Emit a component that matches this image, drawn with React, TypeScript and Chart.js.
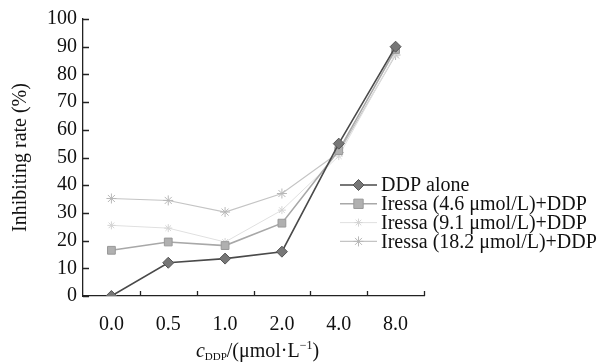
import React, { useEffect, useRef } from "react";
import { Chart, registerables } from "chart.js";

Chart.register(...registerables);

const categories = ["0.0", "0.5", "1.0", "2.0", "4.0", "8.0"];
const ddpAlone = [0, 12, 13.5, 16, 55, 90];
const iressa46 = [16.5, 19.5, 18.2, 26.3, 52.5, 89];
const iressa91 = [25.5, 24.5, 19.5, 31, 50.5, 87.5];
const iressa182 = [35.2, 34.5, 30.3, 37, 51.8, 87];
const yTicks = [0, 10, 20, 30, 40, 50, 60, 70, 80, 90, 100];
const seriesNames = [
  "DDP alone",
  "Iressa (4.6 \u03bcmol/L)+DDP",
  "Iressa (9.1 \u03bcmol/L)+DDP",
  "Iressa (18.2 \u03bcmol/L)+DDP",
];
const yTitle = "Inhibiting rate (%)";

const FONT = "'Liberation Serif', 'Times New Roman', serif";

function marker(ctx: CanvasRenderingContext2D, style: string, x: number, y: number, r: number, fill: string, stroke: string, lw: number) {
  ctx.save();
  ctx.fillStyle = fill;
  ctx.strokeStyle = stroke;
  ctx.lineWidth = lw;
  ctx.beginPath();
  if (style === "rectRot") {
    ctx.moveTo(x, y - r);
    ctx.lineTo(x + r, y);
    ctx.lineTo(x, y + r);
    ctx.lineTo(x - r, y);
    ctx.closePath();
    ctx.fill();
    ctx.stroke();
  } else if (style === "rect") {
    const s = r * 0.85;
    ctx.rect(x - s, y - s, 2 * s, 2 * s);
    ctx.fill();
    ctx.stroke();
  } else {
    ctx.moveTo(x - r, y);
    ctx.lineTo(x + r, y);
    ctx.moveTo(x, y - r);
    ctx.lineTo(x, y + r);
    const d = r * 0.7;
    ctx.moveTo(x - d, y - d);
    ctx.lineTo(x + d, y + d);
    ctx.moveTo(x - d, y + d);
    ctx.lineTo(x + d, y - d);
    ctx.stroke();
  }
  ctx.restore();
}

const decorPlugin = {
  id: "decor",
  afterDraw(chart: any) {
    const ctx: CanvasRenderingContext2D = chart.ctx;
    const xs = chart.scales.x;
    const ys = chart.scales.y;
    const area = chart.chartArea;
    ctx.save();
    ctx.strokeStyle = "#222";
    ctx.lineWidth = 1.3;
    ctx.beginPath();
    ys.ticks.forEach((t: any) => {
      const py = Math.round(ys.getPixelForValue(t.value)) + 0.5;
      ctx.moveTo(area.left, py);
      ctx.lineTo(area.left + 6, py);
    });
    const n = categories.length;
    for (let i = 1; i <= n; i++) {
      const bx = i < n ? (xs.getPixelForValue(i - 1) + xs.getPixelForValue(i)) / 2 : area.right;
      const px = Math.round(bx) + 0.5;
      ctx.moveTo(px, area.bottom);
      ctx.lineTo(px, area.bottom - 5);
    }
    ctx.stroke();

    // y title
    ctx.fillStyle = "#111";
    ctx.font = `20px ${FONT}`;
    ctx.textAlign = "center";
    ctx.textBaseline = "middle";
    ctx.save();
    ctx.translate(21, (area.top + area.bottom) / 2 + 0);
    ctx.rotate(-Math.PI / 2);
    ctx.fillText(yTitle, 0, 0);
    ctx.restore();

    // x title with subscript/superscript
    ctx.textAlign = "left";
    ctx.textBaseline = "alphabetic";
    const parts: [string, string, number][] = [
      ["c", `italic 20px ${FONT}`, 0],
      ["DDP", `11px ${FONT}`, 3],
      ["/(\u03bcmol\u00b7L", `20px ${FONT}`, 0],
      ["\u22121", `12px ${FONT}`, -8],
      [")", `20px ${FONT}`, 0],
    ];
    let total = 0;
    parts.forEach(([t, f]) => {
      ctx.font = f;
      total += ctx.measureText(t).width;
    });
    let cx = (area.left + area.right) / 2 + 4 - total / 2;
    const base = 357;
    parts.forEach(([t, f, dy]) => {
      ctx.font = f;
      ctx.fillText(t, cx, base + dy);
      cx += ctx.measureText(t).width;
    });

    // legend
    const lx0 = 340;
    const lx1 = 377;
    const ly0 = 185;
    const step = 18.8;
    chart.data.datasets.forEach((ds: any, i: number) => {
      const y = ly0 + i * step;
      ctx.strokeStyle = ds.borderColor;
      ctx.lineWidth = ds.borderWidth;
      ctx.beginPath();
      ctx.moveTo(lx0, y);
      ctx.lineTo(lx1, y);
      ctx.stroke();
      marker(ctx, ds.pointStyle, (lx0 + lx1) / 2, y, ds.pointRadius, ds.pointBackgroundColor, ds.pointBorderColor, ds.pointBorderWidth);
      ctx.fillStyle = "#111";
      ctx.font = `20px ${FONT}`;
      ctx.textBaseline = "middle";
      ctx.fillText(ds.label, lx1 + 4, y + 1);
    });
    ctx.restore();
  },
};

export default function App() {
  const ref = useRef<HTMLCanvasElement | null>(null);
  useEffect(() => {
    if (!ref.current) return;
    const mk = (label: string, data: number[], color: string, pfill: string, pstroke: string, style: string, r: number, w: number) => ({
      label,
      data,
      borderColor: color,
      borderWidth: w,
      pointStyle: style,
      pointRadius: r,
      pointBackgroundColor: pfill,
      pointBorderColor: pstroke,
      pointBorderWidth: 1,
      tension: 0,
      fill: false,
    });
    const chart = new Chart(ref.current, {
      type: "line",
      data: {
        labels: categories,
        datasets: [
          mk(seriesNames[0], ddpAlone, "#4a4a4a", "#777", "#555", "rectRot", 5.5, 1.6),
          mk(seriesNames[1], iressa46, "#a8a8a8", "#b0b0b0", "#999", "rect", 5.5, 1.6),
          mk(seriesNames[2], iressa91, "#e0e0e0", "#ddd", "#d4d4d4", "star", 4, 1),
          mk(seriesNames[3], iressa182, "#c4c4c4", "#bbb", "#b8b8b8", "star", 5, 1.1),
        ] as any,
      },
      options: {
        responsive: false,
        animation: false,
        layout: { padding: { top: 19, right: 181, left: 0, bottom: 0 } },
        plugins: { legend: { display: false }, tooltip: { enabled: false } },
        scales: {
          x: {
            type: "category",
            offset: true,
            grid: { display: true, drawOnChartArea: false, drawTicks: false, offset: true },
            border: { display: true, color: "#222", width: 1.3 },
            ticks: { color: "#111", font: { family: FONT, size: 20 }, padding: 17, maxRotation: 0 },
            afterFit: (s: any) => {
              s.height = 67;
            },
          },
          y: {
            min: 0,
            max: 100,
            grid: { display: true, drawOnChartArea: false, drawTicks: false },
            border: { display: true, color: "#222", width: 1.3 },
            ticks: {
              color: "#111",
              font: { family: FONT, size: 20 },
              padding: 6,
              stepSize: 10,
              callback: (v: any) => (yTicks.includes(v) ? String(v) : ""),
            },
            afterFit: (s: any) => {
              s.width = 83;
            },
          },
        },
      },
      plugins: [decorPlugin],
    });
    return () => chart.destroy();
  }, []);
  return (
    <div style={{ position: "absolute", left: 0, top: 0, width: 605, height: 363, background: "#fff" }}>
      <canvas ref={ref} width={605} height={363} />
    </div>
  );
}
